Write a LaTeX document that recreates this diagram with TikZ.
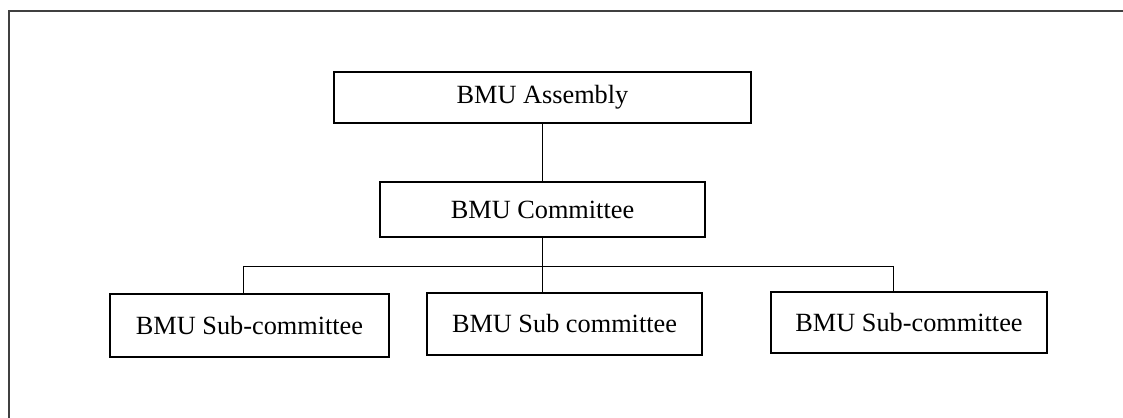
\documentclass[tikz,border=0pt]{standalone}
\usepackage{fontspec}
\setmainfont{Liberation Serif}
\usepackage{tikz}
\usetikzlibrary{calc}
\tikzset{
         unitbox/.style=
          {
           draw=black,line width=1.9pt,fill=white,
           inner sep=0pt,font=\fontsize{18.7}{22}\selectfont
          },
         link/.style={draw=black,line width=.7pt},
         frameline/.style={draw=black!75,line width=1pt}
        }

\begin{document}
\begin{tikzpicture}[x=0.025cm,y=-0.025cm]
      \useasboundingbox (0,0) rectangle (1123,418);
      \draw[frameline](1123,11)--(9,11)--(9,418); %page frame
      \node[unitbox,minimum width=417*0.025cm,minimum height=51*0.025cm] (asm) at (542.5,97.5){BMU Assembly};
      \node[unitbox,minimum width=325*0.025cm,minimum height=55*0.025cm] (com) at (542.5,209.5){BMU Committee};
      \node[unitbox,minimum width=279*0.025cm,minimum height=63*0.025cm] (subA) at (249.5,325.5){BMU Sub-committee};
      \node[unitbox,minimum width=275*0.025cm,minimum height=62*0.025cm] (subB) at (564.5,324){BMU Sub committee};
      \node[unitbox,minimum width=276*0.025cm,minimum height=61*0.025cm] (subC) at (909,322.5){BMU Sub-committee};
      %connectors
      \coordinate (busL) at (243,266);
      \coordinate (busR) at (893,266);
      \draw[link](asm.south)--(com.north);
      \draw[link](com.south)--(com.south |- subB.north); %down to middle box
      \draw[link](busL)--(busR); %bus
      \draw[link](busL)--(busL |- subA.north);
      \draw[link](busR)--(busR |- subC.north);
    \end{tikzpicture}
\end{document}
